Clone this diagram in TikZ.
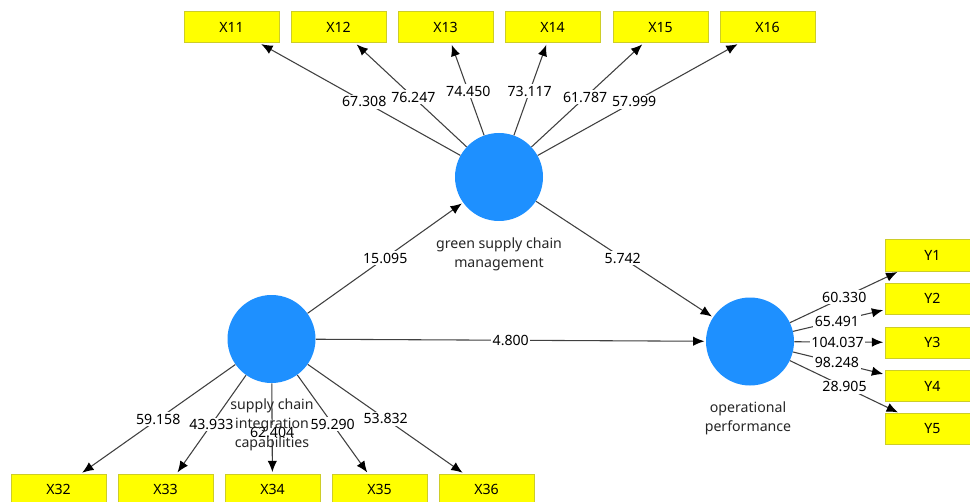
\documentclass[tikz,border=0pt]{standalone}
\usepackage{fontspec}
\setmainfont{Noto Sans}
\usetikzlibrary{arrows.meta}
\definecolor{circblue}{RGB}{30,144,255}
\definecolor{boxyellow}{RGB}{255,255,0}
\definecolor{boxborder}{RGB}{205,205,40}
\definecolor{linegray}{RGB}{64,64,64}
\begin{document}
\begin{tikzpicture}[x=0.75pt,y=-0.75pt,
  every node/.style={font=\fontsize{10.6pt}{14.2pt}\selectfont},
  ind/.style={draw=boxborder, fill=boxyellow, minimum width=71.25pt, minimum height=23.25pt, inner sep=0pt, line width=0.75pt},
  lv/.style={circle, fill=circblue, minimum size=66pt, inner sep=0pt},
  conn/.style={draw=linegray, line width=0.8pt, -{Latex[length=8.5pt,width=7pt,black]}, shorten >=1pt},
  wt/.style={fill=white, inner sep=1.2pt},
  caplbl/.style={align=center, text=black!85}
]
\useasboundingbox (0,0) rectangle (970,502);
\clip (0,0) rectangle (970,502);
\fill[white] (0,0) rectangle (970,502);

% latent variables
\node[lv] (gscm) at (499,177) {};
\node[lv] (sci) at (271.5,339) {};
\node[lv] (op) at (750,341.5) {};

% top indicators
\node[ind] (x11) at (231.5,27.5) {X11};
\node[ind] (x12) at (338.5,27.5) {X12};
\node[ind] (x13) at (445.5,27.5) {X13};
\node[ind] (x14) at (552.5,27.5) {X14};
\node[ind] (x15) at (660.5,27.5) {X15};
\node[ind] (x16) at (767.5,27.5) {X16};

% bottom indicators
\node[ind] (x32) at (58.5,489.5) {X32};
\node[ind] (x33) at (165.5,489.5) {X33};
\node[ind] (x34) at (272.5,489.5) {X34};
\node[ind] (x35) at (379.5,489.5) {X35};
\node[ind] (x36) at (486.5,489.5) {X36};

% right indicators
\node[ind] (y1) at (932.5,255.5) {Y1};
\node[ind] (y2) at (932.5,298.5) {Y2};
\node[ind] (y3) at (932.5,342.5) {Y3};
\node[ind] (y4) at (932.5,386) {Y4};
\node[ind] (y5) at (932.5,429) {Y5};

% outer loadings: gscm
\draw[conn] (gscm) -- node[wt,pos=0.48] {67.308} (x11);
\draw[conn] (gscm) -- node[wt,pos=0.48] {76.247} (x12);
\draw[conn] (gscm) -- node[wt,pos=0.48] {74.450} (x13);
\draw[conn] (gscm) -- node[wt,pos=0.48] {73.117} (x14);
\draw[conn] (gscm) -- node[wt,pos=0.48] {61.787} (x15);
\draw[conn] (gscm) -- node[wt,pos=0.48] {57.999} (x16);

% outer loadings: sci
\draw[conn] (sci) -- node[wt,pos=0.5] {59.158} (x32);
\draw[conn] (sci) -- node[wt,pos=0.5] {43.933} (x33);
\draw[conn] (sci) -- node[wt,pos=0.54] {62.404} (x34);
\draw[conn] (sci) -- node[wt,pos=0.5] {59.290} (x35);
\draw[conn] (sci) -- node[wt,pos=0.5] {53.832} (x36);

% outer loadings: op
\draw[conn] (op) -- node[wt,pos=0.5] {60.330} (y1);
\draw[conn] (op) -- node[wt,pos=0.48] {65.491} (y2);
\draw[conn] (op) -- node[wt,pos=0.48] {104.037} (y3);
\draw[conn] (op) -- node[wt,pos=0.48] {98.248} (y4);
\draw[conn] (op) -- node[wt,pos=0.5] {28.905} (y5);

% structural paths
\draw[conn] (sci) -- node[wt,pos=0.5] {15.095} (gscm);
\draw[conn] (gscm) -- node[wt,pos=0.49] {5.742} (op);
\draw[conn] (sci) -- node[wt,pos=0.5] {4.800} (op);

% construct captions
\node[caplbl] (gscmL) at (499,254) {green supply chain\\management};
\node[caplbl] (sciL) at (272,425) {supply chain\\integration\\capabilities};
\node[caplbl] (opL) at (748,418.5) {operational\\performance};
\end{tikzpicture}
\end{document}
